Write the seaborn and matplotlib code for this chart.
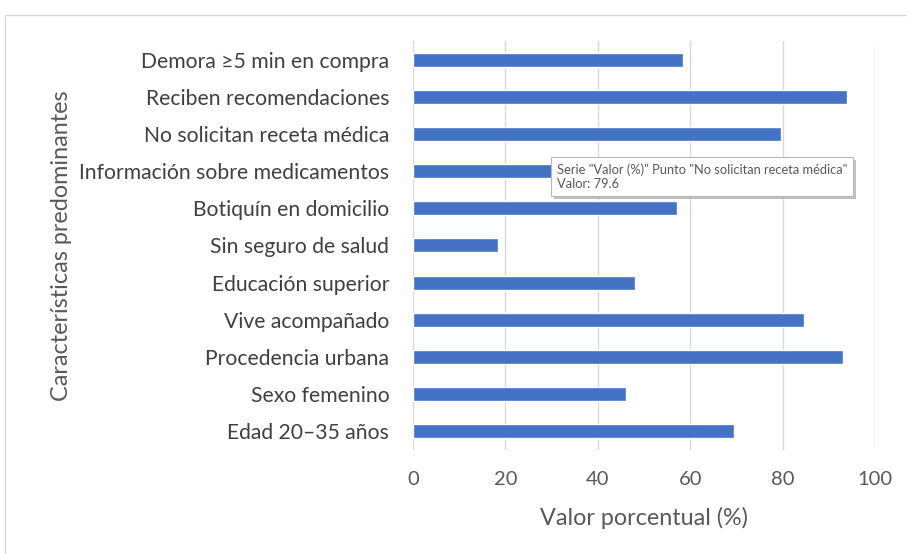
import matplotlib
matplotlib.use("Agg")
import matplotlib.pyplot as plt
import matplotlib.patheffects as pe
import pandas as pd
import seaborn as sns
from matplotlib.patches import Rectangle

# Data (top to bottom as shown in the chart)
categories = [
    "Demora ≥5 min en compra",
    "Reciben recomendaciones",
    "No solicitan receta médica",
    "Información sobre medicamentos",
    "Botiquín en domicilio",
    "Sin seguro de salud",
    "Educación superior",
    "Vive acompañado",
    "Procedencia urbana",
    "Sexo femenino",
    "Edad 20–35 años",
]
values = [58.4, 93.9, 79.6, 65.0, 57.1, 18.3, 48.1, 84.6, 93.1, 46.1, 69.4]
x_ticks = [0, 20, 40, 60, 80, 100]
tooltip_lines = ['Serie "Valor (%)" Punto "No solicitan receta médica"', "Valor: 79.6"]

df = pd.DataFrame({"Característica": categories, "Valor": values})

sns.set_theme(style="white")
plt.rcParams["font.family"] = ["Lato", "DejaVu Sans"]

fig = plt.figure(figsize=(9.07, 5.54), dpi=100)
ax = fig.add_axes([0.4553, 0.188, 0.5094, 0.738])

sns.barplot(data=df, x="Valor", y="Característica", orient="h",
            color="#4472C4", width=0.38, saturation=1, ax=ax)

ax.set_xlim(0, 100)
ax.set_xticks(x_ticks)
ax.xaxis.grid(True, color="#d9d9d9", linewidth=1)
ax.set_axisbelow(True)
for s in ax.spines.values():
    s.set_visible(False)
ax.tick_params(axis="y", length=0, pad=17, labelsize=15.2, labelcolor="#404040")
ax.tick_params(axis="x", length=0, pad=15, labelsize=14.5, labelcolor="#595959")
ax.set_xlabel("Valor porcentual (%)", fontsize=16.8, color="#595959", labelpad=14)
ax.set_ylabel("Características predominantes", fontsize=16.8, color="#595959", labelpad=5)

# Excel-style hover tooltip shown in the reference
tip = ax.annotate("\n".join(tooltip_lines), xy=(30.3, 3), xycoords="data",
                  xytext=(3, -4), textcoords="offset points",
                  ha="left", va="center", fontsize=9.3, color="#595959", linespacing=1.25,
                  bbox=dict(boxstyle="square,pad=0.45", fc="white", ec="#b8b8b8", lw=0.8),
                  zorder=10, annotation_clip=False)
tip.get_bbox_patch().set_path_effects(
    [pe.SimplePatchShadow(offset=(2, -2), shadow_rgbFace="#999999", alpha=0.6), pe.Normal()])

# outer chart border
fig.patches.append(Rectangle((5 / 907, -0.01), 1.0, 1 - 15 / 554 + 0.01,
                             transform=fig.transFigure, fill=False,
                             ec="#d9d9d9", lw=1))

fig.savefig("out.png", dpi=100)
